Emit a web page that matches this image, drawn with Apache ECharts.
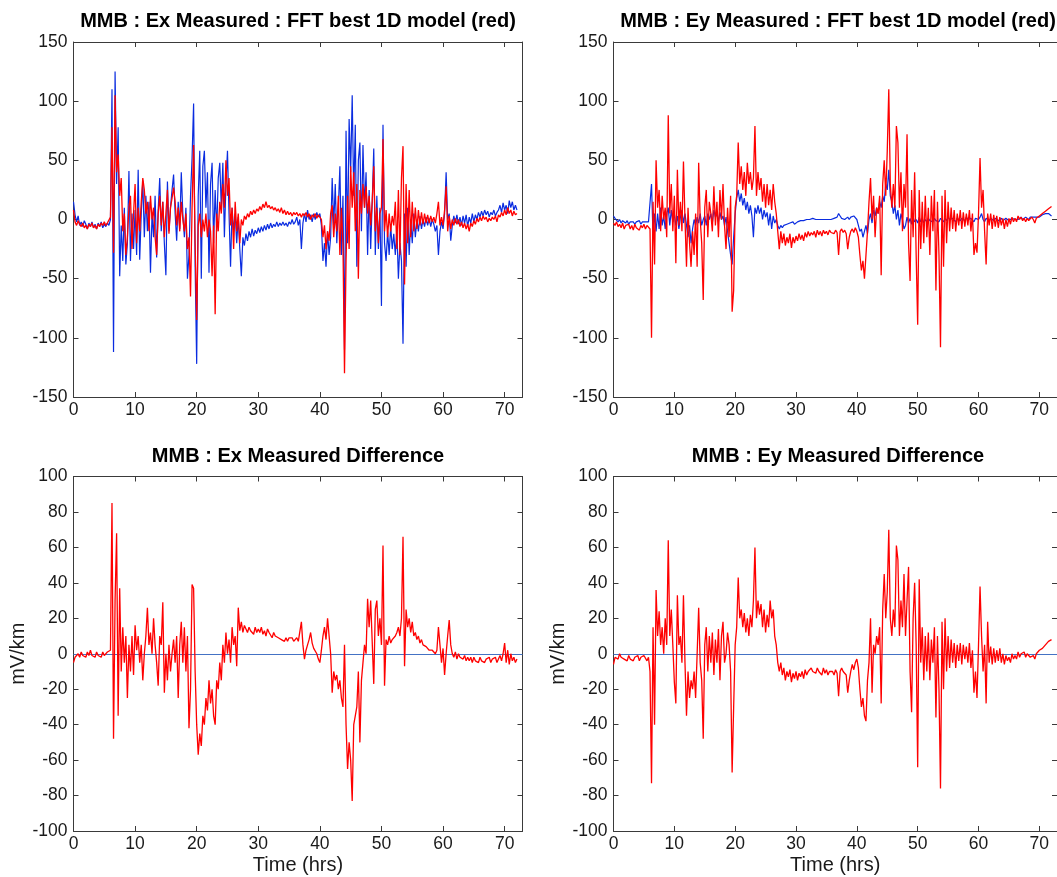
<!DOCTYPE html>
<html>
<head>
<meta charset="utf-8">
<script src="https://cdn.jsdelivr.net/npm/echarts@6/dist/echarts.min.js"></script>
<style>
html,body{margin:0;padding:0;background:#fff;}
#chart{width:1057px;height:877px;}
</style>
</head>
<body>
<div id="chart"></div>
<script>
// ---- data (sampled every 0.25 h starting at 0 h) ----
const T0 = 0;
const DT = 0.25;

const exMeasured = [
 15,4,-2,3,-5,-2,-6,-1,-4,-8,-3,-6,-2,-7,-4,-8,-3,-6,-2,-7,-4,-6,-3,-5,
 0,110,-112,125,30,78,-48,-5,-35,10,-38,-20,41,-35,5,-25,8,-30,42,-34,5,33,-15,20,
 -10,15,-45,5,-15,20,-32,8,35,-10,15,-20,-47,32,-10,10,25,38,5,-18,15,-8,40,5,
 -15,10,-50,-30,20,52,98,-40,-122,20,58,-50,45,58,10,40,-45,30,48,-20,25,-10,35,48,
 10,48,-15,30,58,5,-40,10,-10,5,-20,2,-25,-48,-15,-22,-12,-18,-10,-15,-8,-14,-9,-12,
 -7,-11,-6,-10,-5,-9,-4,-8,-3,-7,-4,-6,-2,-6,-3,-5,-2,-5,-3,-6,-2,-4,0,-4,
 -2,2,-5,0,-25,-3,5,-2,8,0,4,-2,5,0,6,2,5,-5,-35,-20,-40,-10,-30,-15,
 35,-5,30,-20,10,45,-30,20,-110,75,-20,85,40,105,20,80,-40,50,65,-10,63,10,40,-30,
 25,-25,15,60,-30,20,-25,10,-73,80,-20,-35,-10,-30,-5,-25,-12,-30,-8,-50,-20,-35,-105,5,
 -40,10,-30,0,-20,5,-15,0,-10,3,-8,0,-6,2,-5,1,-6,0,-4,-10,-5,-30,-10,-2,
 -8,5,40,0,5,-18,-5,3,-3,4,-4,2,-5,3,-3,4,-6,2,-3,5,-2,4,0,6,
 2,7,3,8,4,7,2,6,4,8,3,6,8,12,6,14,8,12,5,16,10,15,8,12,
 8
];
const exModel = [
 8,-2,-5,-1,-4,-6,-3,-7,-5,-8,-4,-6,-3,-7,-5,-8,-4,-6,-3,-5,-2,-5,-3,-4,
 2,78,-28,105,40,55,20,35,-10,5,-30,-15,10,20,-25,5,30,-20,10,-10,15,35,25,5,
 15,-10,20,0,10,-15,-30,5,20,-5,15,-15,5,25,-12,10,18,27,15,-5,10,-10,15,0,
 -10,5,-25,-15,-65,10,63,-20,-85,-5,5,-15,0,-10,5,-15,0,-10,-48,-5,-80,5,-10,15,
 5,30,10,50,20,35,-5,10,-25,15,-10,5,-20,0,-5,3,0,5,2,7,4,8,5,9,
 7,11,8,13,10,15,10,12,9,11,8,10,7,9,6,10,5,8,4,7,4,6,3,6,
 4,6,3,5,2,5,3,6,2,5,0,4,2,5,1,4,2,0,-15,-5,-25,-10,-18,5,
 12,-15,5,-10,20,-30,10,-20,-130,-35,20,-25,45,10,40,-10,30,-50,25,5,30,10,28,5,
 20,-5,15,45,-10,10,-20,5,10,68,-10,8,-15,5,-10,3,-5,15,-25,25,-30,35,62,-55,
 30,-20,25,-15,15,-10,10,-8,8,-5,6,-4,5,-3,4,-3,3,-2,2,-3,5,15,-5,2,
 -5,8,28,-10,3,-8,0,-5,1,-4,0,-6,-2,-7,-3,-8,-4,-10,-3,-6,-1,-4,1,-2,
 2,-1,3,0,2,-2,1,-1,2,0,3,-2,4,2,6,3,8,4,10,5,8,3,7,4,
 5
];
const eyMeasured = [
 3,1,0,-2,0,-3,-1,-2,-3,-1,-4,-2,-3,-2,-4,-2,-3,-1,-4,-2,-3,-2,-3,-2,
 -3,30,-15,5,-10,5,-8,10,-5,3,-8,5,10,-5,8,-2,5,-5,3,-8,2,8,-3,5,
 -5,-15,-5,-20,-8,0,-5,2,-3,5,-5,0,3,-5,5,0,5,-3,8,2,5,-2,6,0,
 3,-5,2,-10,-20,-30,-38,-15,5,18,25,15,22,12,18,8,15,5,12,3,-15,10,5,12,
 5,10,0,8,2,6,-5,5,-8,3,-3,0,-5,-8,-5,-7,-5,-6,-4,-5,-3,-4,-2,-4,
 -3,-2,-3,-1,-2,-1,-2,0,-1,0,-1,1,0,0,1,0,1,0,1,0,1,0,1,0,
 0,1,0,2,5,3,1,2,0,1,2,0,2,1,3,2,0,-5,-10,-8,-15,-10,-5,-12,
 0,5,-3,8,3,10,5,15,10,20,15,30,25,42,20,15,5,12,0,8,-5,5,0,-8,
 -5,2,-3,1,-4,2,-2,0,-3,2,-2,1,-3,0,-2,1,-1,0,-2,1,-1,0,-2,1,
 0,-2,1,-1,2,0,-1,1,0,-2,1,0,-1,1,0,-1,2,0,-1,1,0,-2,1,0,
 0,2,5,0,-2,1,0,-1,1,0,-1,1,0,-1,0,1,-1,0,1,0,-1,0,1,0,
 0,1,0,1,2,0,1,2,1,0,2,1,2,1,2,3,2,3,4,3,5,4,5,4,
 3
];
const eyModel = [
 -3,-5,-2,-6,-4,-7,-3,-8,-5,-6,-4,-8,-5,-9,-4,-7,-6,-9,-5,-7,-4,-8,-5,-6,
 -8,-100,15,-38,50,10,25,-10,20,0,10,-15,88,5,30,-10,20,-37,42,-5,15,-10,49,0,
 -40,10,-20,-40,-10,-30,5,-40,48,0,-20,-68,10,25,-15,15,5,-10,28,-5,15,-15,25,0,
 30,-5,-25,10,-15,20,-78,-60,10,20,65,30,45,25,40,20,48,30,40,25,35,79,20,40,
 25,35,15,30,10,30,12,25,8,30,15,5,-10,-25,-10,-20,-12,-22,-15,-20,-12,-24,-15,-20,
 -14,-18,-12,-17,-13,-18,-11,-15,-10,-14,-11,-13,-10,-15,-9,-13,-10,-14,-9,-12,-10,-13,-9,-11,
 -10,-12,-9,-11,-30,-10,-8,-11,-9,-12,-25,-15,-10,-8,-11,-7,-10,-15,-30,-43,-35,-50,-30,-10,
 15,35,0,20,-15,10,5,20,-47,30,50,20,58,110,30,10,30,10,79,65,10,40,-10,30,
 10,72,-20,-52,25,-15,40,-30,-89,25,-25,15,-20,20,-15,10,-30,20,-10,25,-60,15,-30,-108,
 20,-40,25,-20,15,-10,10,-8,8,-10,5,-5,8,-8,6,-6,5,-5,8,-10,5,-30,-20,-28,
 5,52,10,25,-10,-38,5,-5,5,-8,4,-6,3,-7,2,-5,1,-8,0,-6,1,-4,2,-2,
 1,-2,3,0,2,-1,1,-2,1,-1,0,2,0,-3,1,0,3,2,5,4,7,6,9,10,
 11
];
const exDiff = [
 -5,-2,-3,0,-2,1,-1,0,-2,1,-1,2,-1,0,-2,1,-1,0,-2,1,-1,0,1,0,
 2,85,-48,30,68,-35,37,-10,15,-5,10,-25,5,-10,10,-12,16,2,10,-5,5,-15,0,10,
 26,5,12,0,20,5,-5,-18,10,5,29,-22,0,-15,5,-10,0,8,-5,10,-25,5,18,-5,
 15,-10,10,-42,-20,39,37,-10,-40,-57,-45,-52,-35,-40,-25,-32,-15,-28,-20,-35,-40,-15,-20,-5,
 -15,5,-5,12,0,8,-5,15,5,10,-7,26,13,18,12,16,14,12,15,13,14,11,15,12,
 14,12,15,11,13,10,14,12,13,9,12,10,11,9,10,8,9,7,9,7,9,8,9,7,
 8,9,7,8,18,5,-3,2,5,8,12,6,3,4,0,-3,-5,2,10,15,8,20,10,0,
 -22,-10,-15,-12,-20,-15,-25,-30,5,-40,-65,-50,-60,-83,-40,-35,-30,-10,-50,-15,-5,5,0,31,
 15,30,31,-17,25,30,10,20,5,61,-18,8,5,10,6,8,7,10,12,15,10,20,66,-7,
 25,15,20,12,18,10,12,8,10,6,8,5,6,4,5,2,3,2,3,0,2,15,5,-5,
 3,-12,0,10,19,5,0,-2,1,-3,0,-2,-1,-3,-1,-4,-2,-4,-2,-5,-2,-4,-3,-5,
 -2,-4,-3,-5,-3,-4,-2,-5,-3,-4,-2,-5,-3,-1,-4,0,6,-5,2,-6,0,-4,-2,-5,
 -3
];
const eyDiff = [
 -6,-2,-1,-3,0,-2,-1,-3,-2,-4,-1,-3,-2,-4,-2,-3,-1,-4,-2,-3,-1,-2,-4,-2,
 -10,-73,15,-40,36,10,24,5,15,0,20,5,64,10,25,5,-16,-28,33,5,10,-5,33,-5,
 -35,-10,-25,-15,-20,-10,-25,0,26,-5,-15,-48,5,15,-10,10,-5,12,-12,8,-5,14,-15,10,
 18,-5,0,12,5,-10,-67,-30,5,15,43,20,25,15,23,12,20,10,22,15,30,60,20,30,
 22,28,15,25,12,22,15,30,20,25,10,5,-5,-10,-5,-12,-8,-15,-10,-13,-9,-16,-11,-14,
 -10,-15,-11,-13,-10,-14,-9,-12,-10,-11,-8,-10,-9,-11,-8,-10,-9,-12,-8,-11,-9,-12,-10,-11,
 -10,-12,-9,-11,-24,-10,-8,-10,-9,-12,-22,-15,-10,-6,-9,-5,-3,-8,-20,-30,-25,-35,-38,-15,
 -5,20,-22,5,0,10,5,15,-28,25,45,20,35,70,20,10,25,15,61,53,10,30,15,45,
 10,30,49,-10,-33,20,40,5,-64,42,-5,15,-15,10,-10,12,-15,8,-5,15,-36,10,-20,-76,
 18,-20,20,-10,10,-8,8,-5,6,-8,5,-4,6,-6,5,-3,4,-5,6,-8,2,-22,-10,-25,
 5,38,10,-10,5,-28,18,-5,4,-6,3,-5,2,-4,3,-5,0,-6,-1,-4,-2,-5,0,-3,
 -1,-3,1,-2,0,-1,1,-2,0,-1,-2,-3,-1,-3,0,1,2,1,3,4,5,5,7,8,
 8
];

const xTicks = [0,10,20,30,40,50,60,70];
const xRange = [0, 72.9];
const topYRange = [-150, 150];
const topYStep = 50;
const bottomYRange = [-100, 100];
const bottomYStep = 20;
const titles = [
  'MMB : Ex Measured : FFT best 1D model (red)',
  'MMB : Ey Measured : FFT best 1D model (red)',
  'MMB : Ex Measured Difference',
  'MMB : Ey Measured Difference'
];
const xName = 'Time (hrs)';
const yName = 'mV/km';

// ---- chart ----
const FONT = '"Liberation Sans", Arial, Helvetica, sans-serif';
const AXC = '#3a3a3a';
const TXT = '#1a1a1a';
const BLUE = '#0a2ce0';
const RED = '#ff0000';
const ZERO = '#4472c4';

function pairs(arr){ return arr.map((v,i)=>[T0 + i*DT, v]); }

const grids = [
  {left:73.5, top:42, width:449, height:355},
  {left:613.5, top:42, width:449, height:355},
  {left:73.5, top:476.5, width:449, height:354.5},
  {left:613.5, top:476.5, width:449, height:354.5}
];

const xAxes = [], yAxes = [];
grids.forEach((g, gi) => {
  const bottomRow = gi >= 2;
  const yr = bottomRow ? bottomYRange : topYRange;
  const ys = bottomRow ? bottomYStep : topYStep;
  const lineStyle = {color: AXC, width: 1};
  xAxes.push({
    type:'value', gridIndex:gi, min:xRange[0], max:xRange[1], position:'bottom',
    axisLine:{show:true, onZero:false, lineStyle},
    axisTick:{show:true, inside:true, length:5, customValues:xTicks, lineStyle},
    axisLabel:{show:true, customValues:xTicks, fontSize:17.5, color:TXT, fontFamily:FONT, margin:4},
    splitLine:{show:false},
    name: bottomRow ? xName : '', nameLocation:'middle', nameGap:24,
    nameTextStyle:{fontSize:20, color:TXT, fontFamily:FONT}
  });
  xAxes.push({
    type:'value', gridIndex:gi, min:xRange[0], max:xRange[1], position:'top',
    axisLine:{show:true, onZero:false, lineStyle},
    axisTick:{show:true, inside:true, length:5, customValues:xTicks, lineStyle},
    axisLabel:{show:false}, splitLine:{show:false}
  });
  yAxes.push({
    type:'value', gridIndex:gi, min:yr[0], max:yr[1], interval:ys, position:'left',
    axisLine:{show:true, onZero:false, lineStyle},
    axisTick:{show:true, inside:true, length:5, lineStyle},
    axisLabel:{show:true, fontSize:17.5, color:TXT, fontFamily:FONT, margin:6},
    splitLine:{show:false},
    name: bottomRow ? yName : '', nameLocation:'middle', nameGap:43,
    nameTextStyle:{fontSize:20, color:TXT, fontFamily:FONT}
  });
  yAxes.push({
    type:'value', gridIndex:gi, min:yr[0], max:yr[1], interval:ys, position:'right',
    axisLine:{show:true, onZero:false, lineStyle},
    axisTick:{show:true, inside:true, length:5, lineStyle},
    axisLabel:{show:false}, splitLine:{show:false}
  });
});

function lineSeries(name, arr, gi, color, z, w){
  return {
    name, type:'line', xAxisIndex:gi*2, yAxisIndex:gi*2, data:pairs(arr),
    showSymbol:false, symbol:'none', sampling:null, animation:false, silent:true, z,
    lineStyle:{color, width:w}, clip:true
  };
}

const series = [
  lineSeries('Ex measured', exMeasured, 0, BLUE, 2, 1.2),
  lineSeries('Ex model', exModel, 0, RED, 3, 1.3),
  lineSeries('Ey measured', eyMeasured, 1, BLUE, 2, 1.2),
  lineSeries('Ey model', eyModel, 1, RED, 3, 1.3),
  Object.assign(lineSeries('Ex difference', exDiff, 2, RED, 3, 1.3), {
    markLine:{silent:true, symbol:['none','none'], z:1, label:{show:false}, animation:false,
      lineStyle:{color:ZERO, width:1.2, type:'solid'}, data:[{yAxis:0}]}
  }),
  Object.assign(lineSeries('Ey difference', eyDiff, 3, RED, 3, 1.3), {
    markLine:{silent:true, symbol:['none','none'], z:1, label:{show:false}, animation:false,
      lineStyle:{color:ZERO, width:1.2, type:'solid'}, data:[{yAxis:0}]}
  })
];

const titleCenters = [[298, 11], [838, 11], [298, 446], [838, 446]];
const title = titles.map((t, i) => ({
  text:t, left:titleCenters[i][0], top:titleCenters[i][1], textAlign:'center', padding:0,
  textStyle:{fontSize:20, fontWeight:'bold', color:'#000', fontFamily:FONT}
}));

const chart = echarts.init(document.getElementById('chart'), null, {renderer:'canvas'});
chart.setOption({
  backgroundColor:'#fff',
  animation:false,
  title,
  grid:grids,
  xAxis:xAxes,
  yAxis:yAxes,
  series
});
</script>
</body>
</html>
